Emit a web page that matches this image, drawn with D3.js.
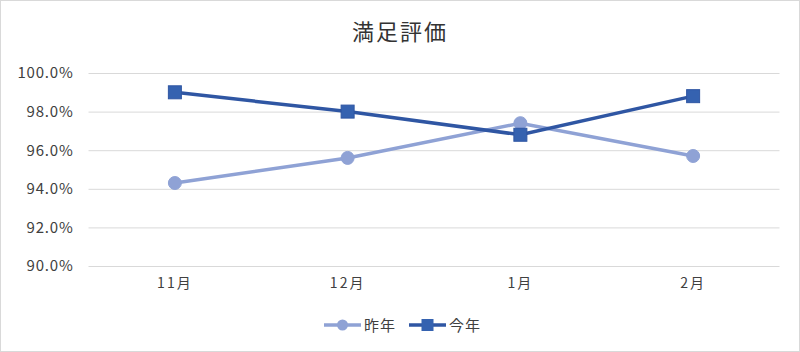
<!DOCTYPE html>
<html><head><meta charset="utf-8">
<script src="https://cdn.jsdelivr.net/npm/d3@7"></script>
<style>body{margin:0;background:#fff;}svg{display:block;font-family:"Noto Sans CJK JP","Noto Sans",sans-serif;}</style>
</head><body>
<script>
const categories = ["11月","12月","1月","2月"];
const lastYear = [94.3, 95.6, 97.4, 95.7];
const thisYear = [99.0, 98.0, 96.8, 98.8];
const yTicks = [90, 92, 94, 96, 98, 100];
const seriesNames = ["昨年","今年"];
const title = "満足評価";

const W = 800, H = 352;
const svg = d3.select("body").append("svg").attr("width", W).attr("height", H);
svg.append("rect").attr("x",0.5).attr("y",0.5).attr("width",W-1).attr("height",H-1)
  .attr("fill","#fff").attr("stroke","#d9d9d9");

const x = d3.scaleBand().domain(categories).range([88.5, 779.5]);
const y = d3.scaleLinear().domain([90, 100]).range([266, 73]);

svg.append("text").attr("x", 400).attr("y", 40).attr("text-anchor","middle")
  .attr("font-size", 22).attr("fill","#333").attr("letter-spacing","2px").text(title);

const yAxis = d3.axisLeft(y).tickValues(yTicks).tickSize(-(779.5-88.5)).tickFormat(d => d3.format(".1f")(d) + "%");
const gy = svg.append("g").attr("transform","translate(88.5,0)").call(yAxis);
gy.select(".domain").remove();
gy.selectAll(".tick line").attr("stroke","#d9d9d9").attr("stroke-width",1);
gy.selectAll(".tick text").attr("x",-15).attr("font-size",15).attr("fill","#404040")
  .attr("letter-spacing","0.8px").attr("font-family","'Noto Sans CJK JP',sans-serif");

const xAxis = d3.axisBottom(x).tickSize(0);
const gx = svg.append("g").attr("transform","translate(0,266)").call(xAxis);
gx.select(".domain").remove();
gx.selectAll(".tick text").attr("y",22).attr("dy","0").attr("font-size",14).attr("fill","#404040")
  .attr("letter-spacing","2px").attr("font-family","'Noto Sans CJK JP',sans-serif");

const cx = d => x(d) + x.bandwidth()/2;
const line = d3.line().x((d,i) => cx(categories[i])).y(d => y(d));

const c1 = "#8fa2d5", c2 = "#2f56a3";
svg.append("path").datum(lastYear).attr("d", line).attr("fill","none").attr("stroke",c1).attr("stroke-width",3.5);
svg.selectAll(".m1").data(lastYear).enter().append("circle")
  .attr("cx",(d,i)=>cx(categories[i])).attr("cy",d=>y(d)).attr("r",6.5).attr("fill",c1).attr("stroke",c1);

svg.append("path").datum(thisYear).attr("d", line).attr("fill","none").attr("stroke",c2).attr("stroke-width",3.5);
svg.selectAll(".m2").data(thisYear).enter().append("rect")
  .attr("x",(d,i)=>cx(categories[i])-6.5).attr("y",d=>y(d)-6.5).attr("width",13).attr("height",13)
  .attr("fill","#3562b0").attr("stroke",c2);

// legend
const lg = svg.append("g");
const items = [{n:seriesNames[0], c:c1, s:"c", x:324}, {n:seriesNames[1], c:c2, s:"r", x:409}];
items.forEach(it => {
  lg.append("line").attr("x1",it.x).attr("x2",it.x+37).attr("y1",325).attr("y2",325).attr("stroke",it.c).attr("stroke-width",3.5);
  if (it.s === "c") lg.append("circle").attr("cx",it.x+18.5).attr("cy",325).attr("r",5.5).attr("fill",it.c);
  else lg.append("rect").attr("x",it.x+12.5).attr("y",319).attr("width",12).attr("height",12).attr("fill","#3562b0");
  lg.append("text").attr("x",it.x+40).attr("y",330.5).attr("font-size",15).attr("letter-spacing","1px").attr("fill","#404040").text(it.n);
});
</script>
</body></html>
